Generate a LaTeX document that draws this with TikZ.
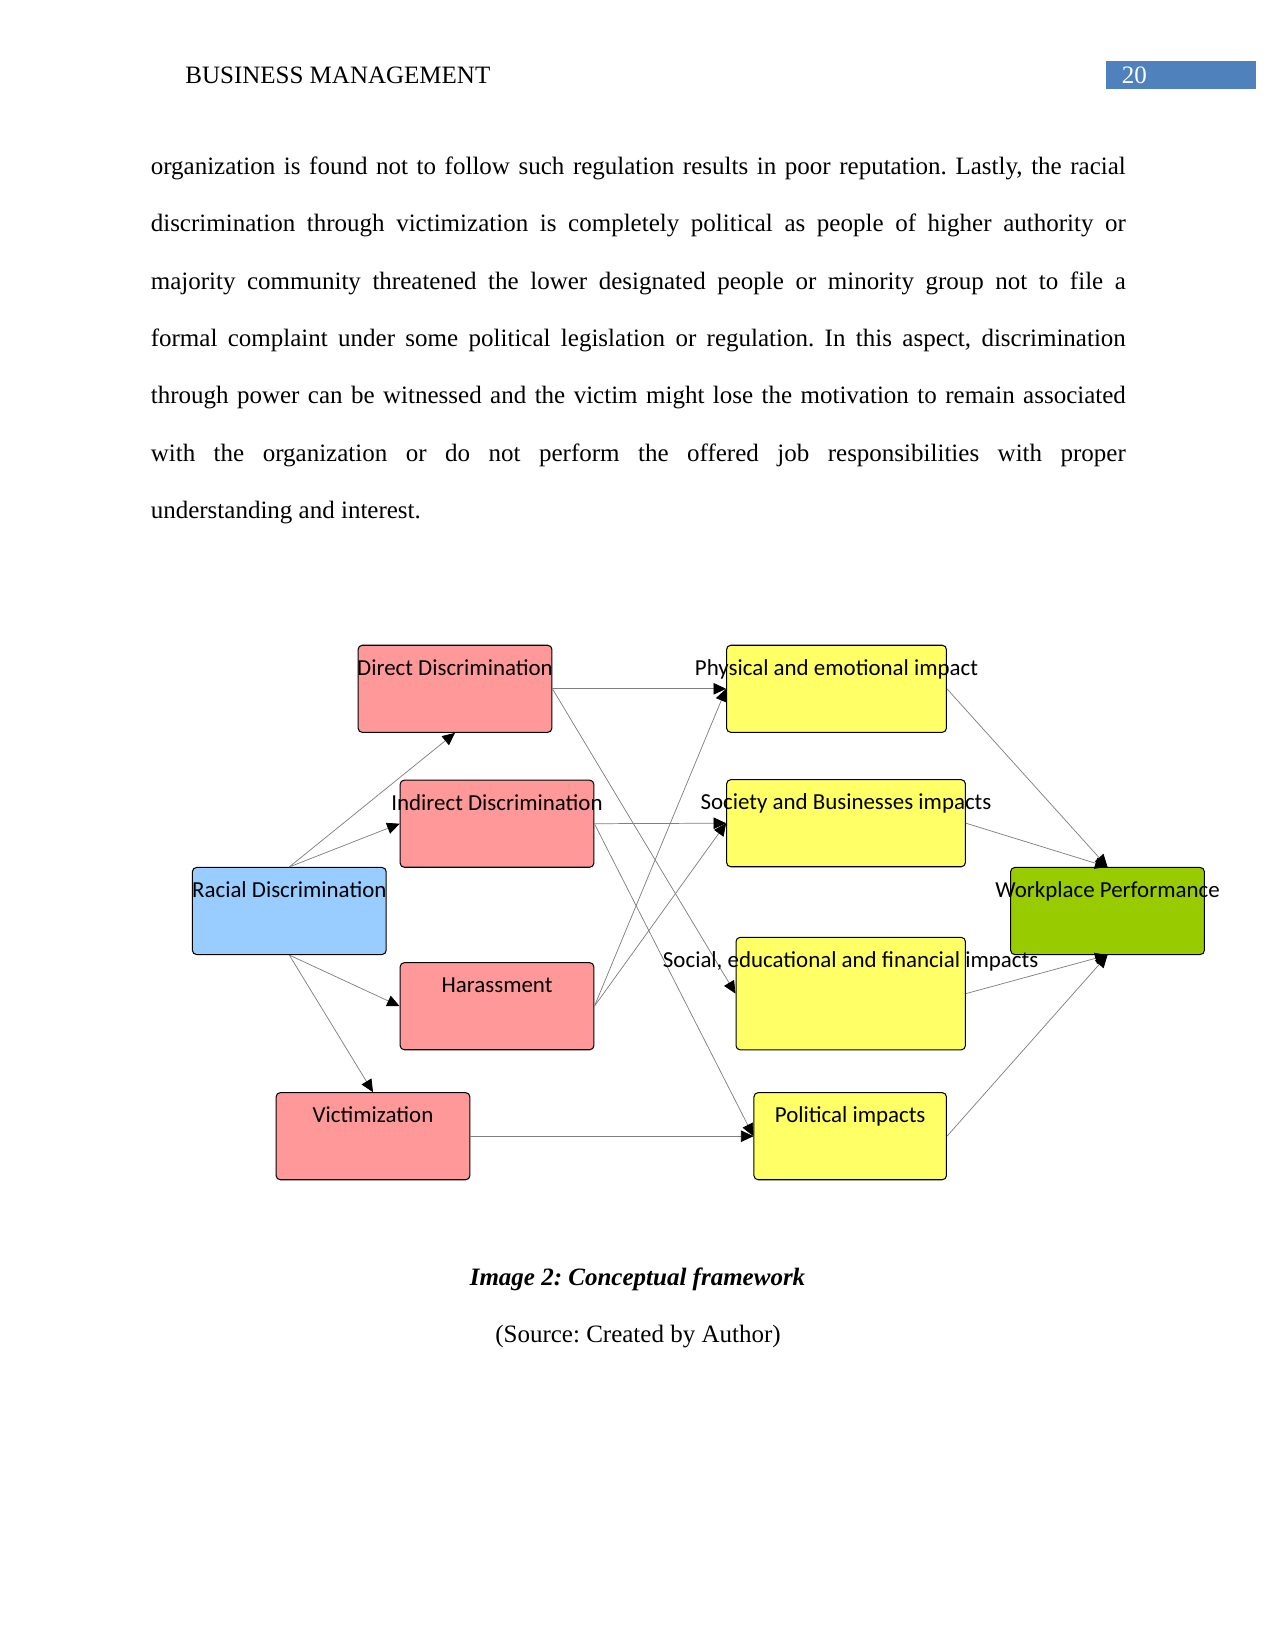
\documentclass[tikz,border=0pt]{standalone}
\usepackage{fontspec}
\setmainfont{Liberation Serif}
\newfontfamily\boxfont{Carlito}
\usetikzlibrary{arrows.meta}
\definecolor{discred}{RGB}{255,153,153}
\definecolor{impyellow}{RGB}{255,255,102}
\definecolor{rootblue}{RGB}{153,204,255}
\definecolor{perfgreen}{RGB}{153,204,0}
\definecolor{headblue}{RGB}{79,129,189}
\tolerance=10000
\frenchspacing

\begin{document}
\begin{tikzpicture}[
    x=0.48pt, y=-0.48pt,
    box/.style={draw=black, line width=0.5pt, rounded corners=2pt, minimum width=93pt, minimum height=41.8pt, inner sep=0pt},
    redbox/.style={box, fill=discred},
    yellowbox/.style={box, fill=impyellow},
    lbl/.style={anchor=base, inner sep=0pt, font=\boxfont\fontsize{11}{13}\selectfont},
    arr/.style={-{Triangle[length=6pt, width=5.5pt, color=black]}, line width=0.35pt, gray}
  ]
  \useasboundingbox (0,0) rectangle (1275,1650);
  \fill[white] (0,0) rectangle (1275,1650);

  % page header
  \node[anchor=base west, inner sep=0pt, font=\fontsize{12}{14}\selectfont] (head) at (185,83.5) {BUSINESS MANAGEMENT};
  \fill[headblue] (1106,61) rectangle (1256,88.7);
  \node[anchor=base west, inner sep=0pt, white, font=\fontsize{12}{14}\selectfont] (pnum) at (1121.5,83.5) {20};

  % body text
  \node[anchor=base west, inner sep=0pt, text width=468pt, align=justify, font=\fontsize{12}{27.55}\selectfont] (para) at (150.4,174.3) {organization is found not to follow such regulation results in poor reputation. Lastly, the racial\linebreak
    discrimination through victimization is completely political as people of higher authority or\linebreak
    majority community threatened the lower designated people or minority group not to file a\linebreak
    formal complaint under some political legislation or regulation. In this aspect, discrimination\linebreak
    through power can be witnessed and the victim might lose the motivation to remain associated\linebreak
    with the organization or do not perform the offered job responsibilities with proper\linebreak
    understanding and interest.};

  % boxes
  \node[redbox] (direct) at (455,688.8) {};
  \node[yellowbox, minimum width=105.5pt] (physical) at (836.5,688.8) {};
  \node[redbox] (indirect) at (497,823.7) {};
  \node[yellowbox, minimum width=114.6pt] (society) at (846,823.2) {};
  \node[box, fill=rootblue] (racial) at (289.3,911) {};
  \node[box, fill=perfgreen] (workplace) at (1107.5,911) {};
  \node[redbox] (harass) at (497,1006.2) {};
  \node[yellowbox, minimum width=110.1pt, minimum height=54pt] (social) at (850.7,993.6) {};
  \node[redbox] (victim) at (373,1136.2) {};
  \node[yellowbox, minimum width=92.4pt] (political) at (850.2,1136.2) {};

  % connectors
  \draw[arr] (racial.north) -- (direct.south);
  \draw[arr] (racial.north) -- (indirect.west);
  \draw[arr] (racial.south) -- (harass.west);
  \draw[arr] (racial.south) -- (victim.north);
  \draw[arr] (direct.east) -- (physical.west);
  \draw[arr] (direct.east) -- (social.west);
  \draw[arr] (indirect.east) -- (society.west);
  \draw[arr] (indirect.east) -- (political.west);
  \draw[arr] (harass.east) -- (physical.west);
  \draw[arr] (harass.east) -- (society.west);
  \draw[arr] (victim.east) -- (political.west);
  \draw[arr] (physical.east) -- (workplace.north);
  \draw[arr] (society.east) -- (workplace.north);
  \draw[arr] (social.east) -- (workplace.south);
  \draw[arr] (political.east) -- (workplace.south);

  % box labels
  \node[lbl] (direct-t) at ([yshift=-14.6pt]direct.north) {Direct Discrimination};
  \node[lbl] (physical-t) at ([yshift=-14.6pt]physical.north) {Physical and emotional impact};
  \node[lbl] (indirect-t) at ([yshift=-14.6pt]indirect.north) {Indirect Discrimination};
  \node[lbl] (society-t) at ([yshift=-14.6pt]society.north) {Society and Businesses impacts};
  \node[lbl] (racial-t) at ([yshift=-14.6pt]racial.north) {Racial Discrimination};
  \node[lbl] (workplace-t) at ([yshift=-14.6pt]workplace.north) {Workplace Performance};
  \node[lbl] (harass-t) at ([yshift=-14.6pt]harass.north) {Harassment};
  \node[lbl] (social-t) at ([yshift=-14.6pt]social.north) {Social, educational and financial impacts};
  \node[lbl] (victim-t) at ([yshift=-14.6pt]victim.north) {Victimization};
  \node[lbl] (political-t) at ([yshift=-14.6pt]political.north) {Political impacts};

  % caption
  \node[anchor=base, inner sep=0pt, font=\fontsize{12}{14}\selectfont\bfseries\itshape] (cap) at (637.5,1285.3) {Image 2: Conceptual framework};
  \node[anchor=base, inner sep=0pt, font=\fontsize{12}{14}\selectfont] (source) at (638,1342.7) {(Source: Created by Author)};
\end{tikzpicture}
\end{document}
